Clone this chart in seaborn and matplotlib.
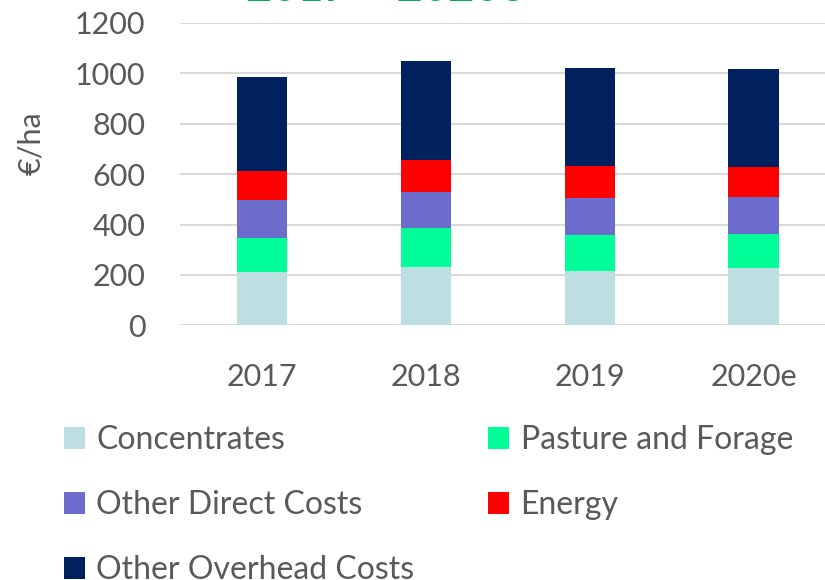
import numpy as np
import pandas as pd
import matplotlib
matplotlib.use('Agg')
import matplotlib.pyplot as plt
import seaborn as sns
from matplotlib.patches import Patch

years = ['2017', '2018', '2019', '2020e']
series_names = ['Concentrates', 'Pasture and Forage', 'Other Direct Costs',
                'Energy', 'Other Overhead Costs']
concentrates = [213, 233, 216, 229]
pasture_forage = [133, 153, 142, 133]
other_direct = [150, 143, 147, 148]
energy = [117, 128, 127, 117]
other_overhead = [372, 392, 390, 390]
colors = ['#bddfe2', '#00ff99', '#6c6ccd', '#ff0000', '#00215e']

if __name__ == '__main__':
    sns.set_style('white')
    plt.rcParams['font.family'] = ['Lato', 'DejaVu Sans']
    text_color = '#595959'

    costs = pd.DataFrame({
        'year': years,
        'Concentrates': concentrates,
        'Pasture and Forage': pasture_forage,
        'Other Direct Costs': other_direct,
        'Energy': energy,
        'Other Overhead Costs': other_overhead,
    })
    cumulative = costs[series_names].cumsum(axis=1)
    cumulative['year'] = costs['year']

    fig = plt.figure(figsize=(8.25, 5.8), dpi=100)
    ax = fig.add_axes([0.2182, 0.4391, 0.795, 0.5214])

    # draw stacks from the top layer down so each shorter bar sits in front
    for name, color in reversed(list(zip(series_names, colors))):
        sns.barplot(data=cumulative, x='year', y=name, color=color,
                    width=0.31, linewidth=0, saturation=1, ax=ax)

    ax.set_ylim(0, 1200)
    ax.set_yticks(range(0, 1201, 200))
    ax.yaxis.grid(True, color='#d9d9d9', linewidth=1.4)
    ax.set_axisbelow(True)
    sns.despine(ax=ax, left=True, bottom=True)
    ax.tick_params(axis='both', length=0, labelsize=22, colors=text_color)
    ax.tick_params(axis='y', pad=25)
    ax.tick_params(axis='x', pad=27)
    ax.set_xlabel('')
    ax.set_ylabel('€/ha', fontsize=22, color=text_color)
    ax.yaxis.set_label_coords(-0.206, 0.603)

    fig.text(385 / 825, 1 - 1 / 580, '2017 – 2020e', ha='center', va='baseline',
             fontsize=32, fontweight='bold', color='#00b050')

    # reference legend fills row by row; matplotlib fills columns first
    order = [0, 2, 4, 1, 3]
    handles = [Patch(facecolor=colors[i], edgecolor='none') for i in order]
    labels = [series_names[i] for i in order]
    fig.legend(handles, labels, loc='upper left', ncol=2,
               bbox_to_anchor=(0.077, 0.2677), frameon=False, fontsize=23,
               labelcolor=text_color, handlelength=0.68, handleheight=0.68,
               handletextpad=0.35, columnspacing=2.29, labelspacing=1.105,
               borderaxespad=0, borderpad=0)

    fig.savefig('out.png', dpi=100)
